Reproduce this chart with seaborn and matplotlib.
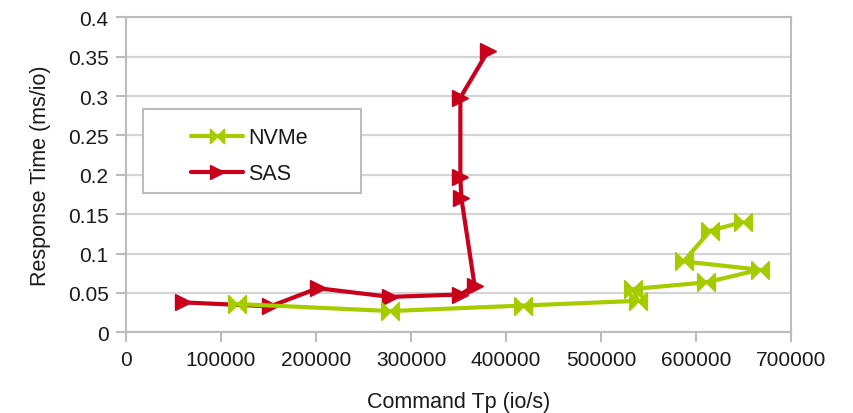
import matplotlib
matplotlib.use("Agg")
import matplotlib.pyplot as plt
from matplotlib.path import Path
from matplotlib.patches import Rectangle
import pandas as pd
import seaborn as sns

# Throughput (io/s) vs response time (ms/io) for each interface
nvme_tp = [117000, 278000, 418000, 539000, 534000, 611000, 667000, 587000, 615000, 649000]
nvme_rt = [0.036, 0.027, 0.034, 0.040, 0.055, 0.0635, 0.0795, 0.090, 0.129, 0.140]

sas_tp = [60000, 152000, 202000, 278000, 352000, 367000, 353000, 352000, 352000, 381000]
sas_rt = [0.038, 0.033, 0.056, 0.045, 0.048, 0.059, 0.171, 0.197, 0.298, 0.357]

x_ticks = [0, 100000, 200000, 300000, 400000, 500000, 600000, 700000]
y_ticks = [0, 0.05, 0.1, 0.15, 0.2, 0.25, 0.3, 0.35, 0.4]
y_tick_labels = ["0", "0.05", "0.1", "0.15", "0.2", "0.25", "0.3", "0.35", "0.4"]

series_names = ["NVMe", "SAS"]

nvme_df = pd.DataFrame({"tp": nvme_tp, "rt": nvme_rt})
sas_df = pd.DataFrame({"tp": sas_tp, "rt": sas_rt})

sns.set_theme(style="white")
plt.rcParams["font.family"] = ["Liberation Sans", "DejaVu Sans"]

GREEN = "#a6cc00"
RED = "#c8001c"
GRID = "#d4d4d4"
AXIS = "#bcbcbc"
TEXT = "#1a1a1a"

# Bow-tie marker: two triangles pointing inward, meeting at the centre
bowtie = Path(
    [(-1, -1), (0, 0), (-1, 1), (-1, -1), (1, -1), (0, 0), (1, 1), (1, -1)],
    [Path.MOVETO, Path.LINETO, Path.LINETO, Path.CLOSEPOLY,
     Path.MOVETO, Path.LINETO, Path.LINETO, Path.CLOSEPOLY],
)

fig = plt.figure(figsize=(8.54, 4.14), dpi=100)
ax = fig.add_axes([0.1475, 0.1949, 0.7787, 0.7609])

sns.lineplot(data=sas_df, x="tp", y="rt", sort=False, estimator=None, ax=ax,
             color=RED, linewidth=3, marker=">", markersize=12,
             markeredgewidth=1, markeredgecolor=RED, zorder=3, label=series_names[1])
sns.lineplot(data=nvme_df, x="tp", y="rt", sort=False, estimator=None, ax=ax,
             color=GREEN, linewidth=3, marker=bowtie, markersize=12.5,
             markeredgewidth=1.3, markeredgecolor=GREEN, zorder=4, label=series_names[0])

ax.set_xlim(0, 700000)
ax.set_ylim(0, 0.4)
ax.set_xticks(x_ticks)
ax.set_xticklabels([str(v) for v in x_ticks])
ax.set_yticks(y_ticks)
ax.set_yticklabels(y_tick_labels)

ax.yaxis.grid(True, color=GRID, linewidth=1.6)
ax.xaxis.grid(False)
ax.set_axisbelow(True)
for side in ["left", "bottom", "right", "top"]:
    ax.spines[side].set_color(AXIS)
    ax.spines[side].set_linewidth(1.5)
ax.tick_params(axis="both", direction="out", length=7.5, width=1.5, color=AXIS,
               labelsize=15, labelcolor=TEXT, pad=5, bottom=True, left=True)

ax.set_xlabel("Command Tp (io/s)", fontsize=15.5, color=TEXT, labelpad=16)
ax.set_ylabel("Response Time (ms/io)", fontsize=15.5, color=TEXT, labelpad=12)

# Legend box
bx, by, bw, bh = 0.026, 0.441, 0.327, 0.268
ax.add_patch(Rectangle((bx, by), bw, bh, transform=ax.transAxes, facecolor="white",
                       edgecolor=AXIS, linewidth=1.5, zorder=5))
handles, labels = ax.get_legend_handles_labels()
order = [labels.index(n) for n in series_names]
leg = ax.legend([handles[i] for i in order], [labels[i] for i in order],
                loc="center", bbox_to_anchor=(bx + bw / 2 - 0.004, by + bh / 2 - 0.014),
                bbox_transform=ax.transAxes, frameon=False, fontsize=15.5,
                handlelength=2.4, handletextpad=0.25, labelspacing=0.7,
                markerscale=0.8)
leg.set_zorder(6)
for t in leg.get_texts():
    t.set_color(TEXT)

fig.savefig("out.png", dpi=100)
